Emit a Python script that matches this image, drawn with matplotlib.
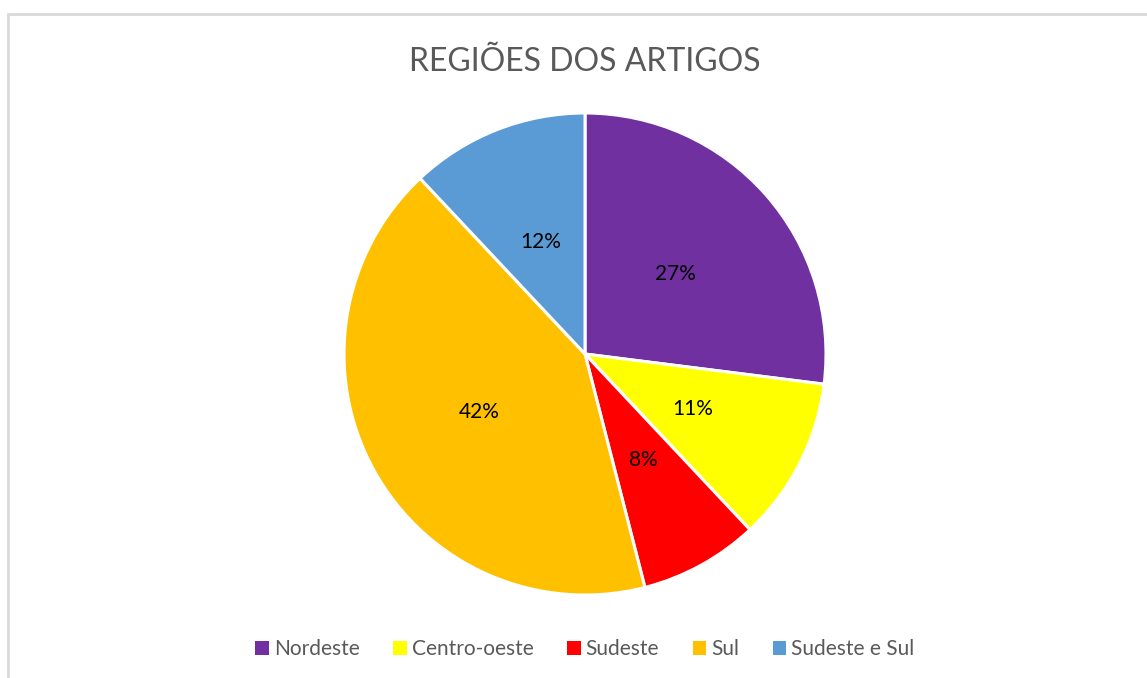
import matplotlib
matplotlib.use("Agg")
import matplotlib.pyplot as plt
from matplotlib.patches import Rectangle

# data
regioes = ["Nordeste", "Centro-oeste", "Sudeste", "Sul", "Sudeste e Sul"]
percentuais = [27, 11, 8, 42, 12]
cores = ["#7030A0", "#FFFF00", "#FF0000", "#FFC000", "#5B9BD5"]

plt.rcParams['font.family'] = ['Lato', 'DejaVu Sans']

W, H = 1147, 678
fig = plt.figure(figsize=(W / 100, H / 100), dpi=100)
fig.patch.set_facecolor("white")

# moldura cinza do grafico (tipo Excel)
fig.patches.append(Rectangle((8 / W, -0.1), 1.2, 1 - 14 / H + 0.1,
                             transform=fig.transFigure, fill=False,
                             edgecolor="#D9D9D9", linewidth=2))

cx, cy, r = 585, 354, 241
ax = fig.add_axes([(cx - r) / W, (H - cy - r) / H, 2 * r / W, 2 * r / H])
wedges, textos, autotextos = ax.pie(
    percentuais, colors=cores, startangle=90, counterclock=False,
    autopct="%d%%", pctdistance=0.5, radius=1,
    wedgeprops=dict(edgecolor="white", linewidth=2.2),
    textprops=dict(fontsize=15, color="black"))
ax.set_xlim(-1.0, 1.0)
ax.set_ylim(-1.0, 1.0)
ax.set_aspect("equal")
ax.axis("off")

fig.text(cx / W, 1 - 62 / H, "REGIÕES DOS ARTIGOS", ha="center", va="center",
         fontsize=23, color="#595959")

leg = fig.legend(wedges, regioes, loc="center", bbox_to_anchor=(cx / W, 1 - 649 / H),
                 ncol=5, frameon=False, fontsize=15, handlelength=0.65,
                 handleheight=0.65, handletextpad=0.25, columnspacing=1.6)
for t in leg.get_texts():
    t.set_color("#595959")
for h in leg.legend_handles:
    h.set_edgecolor("none")

fig.savefig("out.png", dpi=100)
